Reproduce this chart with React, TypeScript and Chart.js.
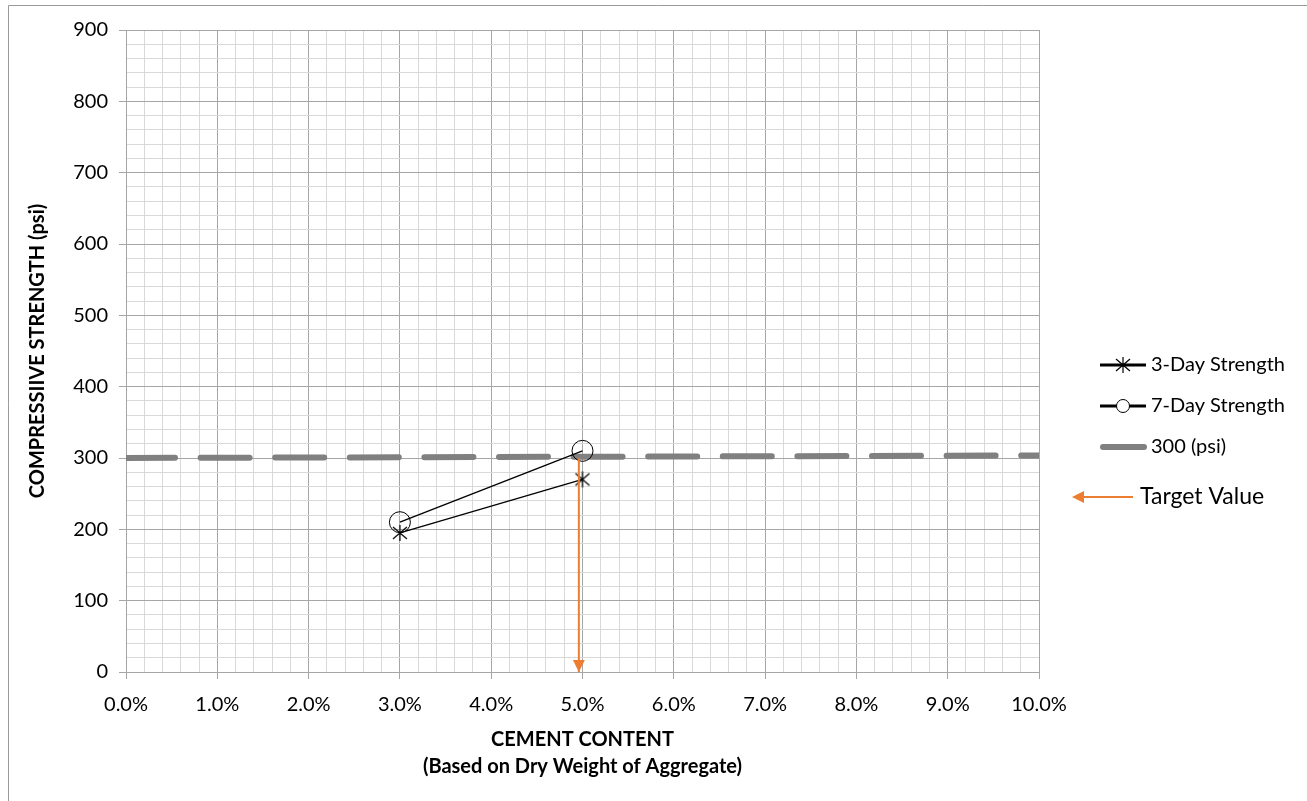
import React, { useEffect, useRef } from 'react';
import { Chart, registerables } from 'chart.js';

Chart.register(...registerables);

// ---- Data ----
const cementContent = [0.03, 0.05];
const strength3Day = [195, 270];
const strength7Day = [210, 310];
const targetLineX = [0, 0.1];
const targetLineY = [300, 303.5];
const arrowX = [0.0496, 0.0496];
const arrowY = [300, 0];

const seriesNames = ['3-Day Strength', '7-Day Strength', '300 (psi)'];
const targetLabel = 'Target Value';
const xTitle = ['CEMENT CONTENT', '(Based on Dry Weight of Aggregate)'];
const yTitle = 'COMPRESSIIVE STRENGTH (psi)';

const xMin = 0;
const xMax = 0.1;
const xStep = 0.002;
const yMin = 0;
const yMax = 900;
const yStep = 20;

const FONT = 'Lato';
const ORANGE = '#ED7D31';
const GRAY_LINE = '#808080';
const MAJOR = '#a6a6a6';
const MINOR = '#d9d9d9';

function pts(xs: number[], ys: number[]) {
  return xs.map((x, i) => ({ x, y: ys[i] }));
}

function drawStar(g: CanvasRenderingContext2D, cx: number, cy: number, lw: number) {
  g.save();
  g.strokeStyle = '#000';
  g.lineWidth = lw;
  g.beginPath();
  g.moveTo(cx, cy - 8);
  g.lineTo(cx, cy + 8);
  g.moveTo(cx - 7, cy - 6);
  g.lineTo(cx + 7, cy + 6);
  g.moveTo(cx + 7, cy - 6);
  g.lineTo(cx - 7, cy + 6);
  g.stroke();
  g.restore();
}

function makeStarImage() {
  const c = document.createElement('canvas');
  c.width = 20;
  c.height = 20;
  const g = c.getContext('2d')!;
  drawStar(g, 10, 10, 1.2);
  return c;
}

function drawArrowHead(g: CanvasRenderingContext2D, tipX: number, tipY: number, dx: number, dy: number) {
  const len = 12;
  const half = 6;
  const bx = tipX - dx * len;
  const by = tipY - dy * len;
  const px = -dy;
  const py = dx;
  g.beginPath();
  g.moveTo(tipX, tipY);
  g.lineTo(bx + px * half, by + py * half);
  g.lineTo(bx - px * half, by - py * half);
  g.closePath();
  g.fillStyle = ORANGE;
  g.fill();
}

const overlayPlugin = {
  id: 'overlay',
  afterDatasetsDraw(chart: any) {
    const g: CanvasRenderingContext2D = chart.ctx;
    const meta = chart.getDatasetMeta(0);
    const els = meta.data;
    if (els && els.length >= 2) {
      const a = els[els.length - 2];
      const b = els[els.length - 1];
      const dx = b.x - a.x;
      const dy = b.y - a.y;
      const l = Math.hypot(dx, dy) || 1;
      g.save();
      drawArrowHead(g, b.x, b.y, dx / l, dy / l);
      g.restore();
    }
  },
  afterDraw(chart: any) {
    const g: CanvasRenderingContext2D = chart.ctx;
    g.save();
    // outer frame (only top/left visible)
    g.strokeStyle = '#9a9a9a';
    g.lineWidth = 1;
    g.beginPath();
    g.moveTo(8.5, 801);
    g.lineTo(8.5, 5.5);
    g.lineTo(1307, 5.5);
    g.stroke();

    // legend
    const lx0 = 1100;
    const lx1 = 1146;
    const tx = 1151;
    g.font = `20px ${FONT}`;
    g.fillStyle = '#000';
    g.textBaseline = 'middle';
    g.textAlign = 'left';

    // 3-Day
    let y = 365;
    g.strokeStyle = '#000';
    g.lineWidth = 3;
    g.lineCap = 'butt';
    g.beginPath();
    g.moveTo(lx0, y);
    g.lineTo(lx1, y);
    g.stroke();
    drawStar(g, (lx0 + lx1) / 2, y, 1.2);
    g.fillText(seriesNames[0], tx, y);

    // 7-Day
    y = 406;
    g.strokeStyle = '#000';
    g.lineWidth = 3;
    g.beginPath();
    g.moveTo(lx0, y);
    g.lineTo(lx1, y);
    g.stroke();
    g.beginPath();
    g.arc((lx0 + lx1) / 2, y, 6.5, 0, Math.PI * 2);
    g.fillStyle = '#fff';
    g.fill();
    g.lineWidth = 1;
    g.stroke();
    g.fillStyle = '#000';
    g.fillText(seriesNames[1], tx, y);

    // 300 psi
    y = 447;
    g.strokeStyle = GRAY_LINE;
    g.lineWidth = 6;
    g.lineCap = 'round';
    g.beginPath();
    g.moveTo(lx0 + 3, y);
    g.lineTo(lx1 - 2, y);
    g.stroke();
    g.fillStyle = '#000';
    g.fillText(seriesNames[2], tx, y);

    // Target value arrow
    y = 497;
    g.strokeStyle = ORANGE;
    g.lineWidth = 2;
    g.lineCap = 'butt';
    g.beginPath();
    g.moveTo(1133, y);
    g.lineTo(1080, y);
    g.stroke();
    drawArrowHead(g, 1072, y, -1, 0);
    g.font = `23px ${FONT}`;
    g.fillStyle = '#000';
    g.fillText(targetLabel, 1140, y);
    g.restore();
  },
};

export default function App() {
  const ref = useRef<HTMLCanvasElement | null>(null);

  useEffect(() => {
    if (!ref.current) return;
    const star = makeStarImage();
    const chart = new Chart(ref.current, {
      type: 'scatter',
      data: {
        datasets: [
          {
            label: 'arrow',
            data: pts(arrowX, arrowY),
            showLine: true,
            borderColor: ORANGE,
            borderWidth: 2,
            pointRadius: 0,
            clip: false as any,
          },
          {
            label: seriesNames[0],
            data: pts(cementContent, strength3Day),
            showLine: true,
            borderColor: '#000',
            borderWidth: 1.25,
            pointStyle: star as any,
            pointRadius: 8,
          },
          {
            label: seriesNames[1],
            data: pts(cementContent, strength7Day),
            showLine: true,
            borderColor: '#000',
            borderWidth: 1.25,
            pointStyle: 'circle',
            pointRadius: 10.5,
            pointBorderWidth: 1,
            pointBorderColor: '#000',
            pointBackgroundColor: 'rgba(0,0,0,0)',
          },
          {
            label: seriesNames[2],
            data: pts(targetLineX, targetLineY),
            showLine: true,
            borderColor: GRAY_LINE,
            borderWidth: 6,
            borderDash: [49, 25.6],
            borderCapStyle: 'round',
            pointRadius: 0,
          },
        ],
      },
      options: {
        animation: false,
        responsive: true,
        maintainAspectRatio: false,
        layout: { padding: { top: 30, right: 268, left: 0, bottom: 0 } },
        plugins: {
          legend: { display: false },
          tooltip: { enabled: false },
        },
        scales: {
          x: {
            type: 'linear',
            min: xMin,
            max: xMax,
            afterFit: (s: any) => {
              s.height = 129;
            },
            ticks: {
              stepSize: xStep,
              autoSkip: false,
              maxRotation: 0,
              padding: 14,
              color: '#000',
              font: { family: FONT, size: 20 },
              callback: (v: any, i: number) => (i % 5 === 0 ? (Number(v) * 100).toFixed(1) + '%' : ''),
            },
            grid: {
              color: (c: any) => (c.index % 5 === 0 ? MAJOR : MINOR),
              tickColor: (c: any) => (c.index % 5 === 0 ? MAJOR : 'rgba(0,0,0,0)'),
              tickLength: 7,
              lineWidth: 1,
            },
            border: { color: MAJOR },
            title: {
              display: true,
              text: xTitle,
              color: '#000',
              font: { family: FONT, size: 20, weight: 'bold', lineHeight: 1.35 },
              padding: { top: 0, bottom: 20.5 },
            },
          },
          y: {
            type: 'linear',
            min: yMin,
            max: yMax,
            afterFit: (s: any) => {
              s.width = 126;
            },
            ticks: {
              stepSize: yStep,
              autoSkip: false,
              padding: 11,
              color: '#000',
              font: { family: FONT, size: 20 },
              callback: (v: any, i: number) => (i % 5 === 0 ? String(v) : ''),
            },
            grid: {
              color: (c: any) => (c.index % 5 === 0 ? MAJOR : MINOR),
              tickColor: (c: any) => (c.index % 5 === 0 ? MAJOR : 'rgba(0,0,0,0)'),
              tickLength: 7,
              lineWidth: 1,
            },
            border: { color: MAJOR },
            title: {
              display: true,
              text: yTitle,
              color: '#000',
              font: { family: FONT, size: 20, weight: 'bold', lineHeight: 1.2 },
              padding: { top: 26, bottom: 0 },
            },
          },
        },
      } as any,
      plugins: [overlayPlugin],
    });
    return () => chart.destroy();
  }, []);

  return (
    <div
      style={{
        position: 'fixed',
        left: 0,
        top: 0,
        width: 1307,
        height: 801,
        background: '#fff',
        overflow: 'hidden',
      }}
    >
      <canvas ref={ref} />
    </div>
  );
}
